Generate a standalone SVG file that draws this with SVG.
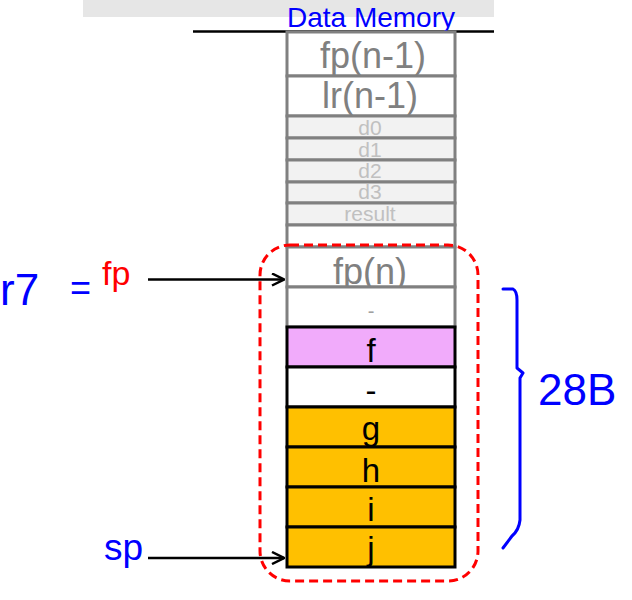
<svg xmlns="http://www.w3.org/2000/svg" width="632" height="600" viewBox="0 0 632 600">
<defs>
<style>
.t{font-family:"Liberation Sans",Arial,sans-serif;text-anchor:middle}
.g{fill:#ffffff;stroke:#808080;stroke-width:3}
.gd{fill:#f2f2f2;stroke:#808080;stroke-width:3}
.b{stroke:#000;stroke-width:3}
.big{font-size:36px;fill:#808080}
.sm{font-size:21px;fill:#c0c0c0}
.blk{font-size:33px;fill:#000}
.hw{font-family:"Liberation Sans",Arial,sans-serif;fill:#0000ff}
</style>
<marker id="arr" viewBox="0 0 14 14" refX="13" refY="7" markerWidth="14" markerHeight="14" markerUnits="userSpaceOnUse" orient="auto">
<path d="M1,1 L13,7 L1,13" fill="none" stroke="#000" stroke-width="2.5"/>
</marker>
</defs>
<rect width="632" height="600" fill="#fff"/>
<rect x="83" y="0" width="411" height="17" fill="#e6e6e6"/>
<line x1="193" y1="31.5" x2="494" y2="31.5" stroke="#000" stroke-width="2.5"/>
<text class="t" x="371" y="27" font-size="28" fill="#0000ff">Data Memory</text>

<g id="fp_n1"><rect class="g" x="287" y="32" width="168" height="44"/><text class="t big" x="373" y="68">fp(n-1)</text></g>
<g id="lr_n1"><rect class="g" x="287" y="76" width="168" height="40"/><text class="t big" x="370" y="108">lr(n-1)</text></g>
<g id="d0"><rect class="gd" x="287" y="116" width="168" height="22"/><text class="t sm" x="370" y="135">d0</text></g>
<g id="d1"><rect class="gd" x="287" y="138" width="168" height="22"/><text class="t sm" x="370" y="157">d1</text></g>
<g id="d2"><rect class="gd" x="287" y="160" width="168" height="22"/><text class="t sm" x="370" y="178">d2</text></g>
<g id="d3"><rect class="gd" x="287" y="182" width="168" height="21"/><text class="t sm" x="370" y="199">d3</text></g>
<g id="result"><rect class="gd" x="287" y="203" width="168" height="22"/><text class="t sm" x="370" y="221">result</text></g>
<g id="empty"><rect class="g" x="287" y="225" width="168" height="22"/></g>
<g id="fp_n"><rect class="g" x="287" y="247" width="168" height="40"/><text class="t big" x="370" y="284">fp(n)</text></g>
<g id="pad1"><rect class="g" x="287" y="287" width="168" height="40"/><text class="t" x="371" y="318" font-size="20" fill="#a0a0a0">-</text></g>
<g id="f"><rect class="b" x="287" y="327" width="168" height="40" fill="#f1abfb"/><text class="t blk" x="371" y="362">f</text></g>
<g id="pad2"><rect class="b" x="287" y="367" width="168" height="40" fill="#fff"/><text class="t blk" x="371" y="402">-</text></g>
<g id="g"><rect class="b" x="287" y="407" width="168" height="40" fill="#ffc000"/><text class="t blk" x="371" y="440">g</text></g>
<g id="h"><rect class="b" x="287" y="447" width="168" height="40" fill="#ffc000"/><text class="t blk" x="371" y="482">h</text></g>
<g id="i"><rect class="b" x="287" y="487" width="168" height="40" fill="#ffc000"/><text class="t blk" x="371" y="521">i</text></g>
<g id="j"><rect class="b" x="287" y="527" width="168" height="40" fill="#ffc000"/><text class="t blk" x="371" y="560">j</text></g>

<g id="frame"><rect x="260" y="245" width="218" height="336" rx="30" ry="30" fill="none" stroke="#ff0000" stroke-width="3" stroke-dasharray="9,5"/></g>

<g id="labels">
<text class="hw" x="0" y="305" font-size="44">r7</text>
<text class="hw" x="70" y="300" font-size="36">=</text>
<text x="102" y="285" font-family="Liberation Sans,Arial,sans-serif" font-size="34" fill="#ff0000">fp</text>
<text class="hw" x="104" y="560" font-size="37">sp</text>
<text class="hw" x="538" y="405" font-size="44">28B</text>
</g>

<g id="connectors">
<line x1="148" y1="279.5" x2="284" y2="279.5" stroke="#000" stroke-width="2.5" marker-end="url(#arr)"/>
<line x1="148" y1="558" x2="284" y2="558" stroke="#000" stroke-width="2.5" marker-end="url(#arr)"/>
<path d="M503,289 L513,289 Q517,291 517,300 L517,368 L523,373 L520,378 L520,520 Q519,530 512,536 L503,548" fill="none" stroke="#0000ff" stroke-width="3" stroke-linecap="round" stroke-linejoin="round"/>
</g>
</svg>
